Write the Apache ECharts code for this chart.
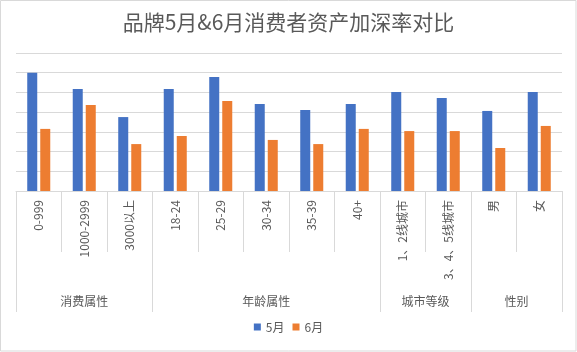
<!DOCTYPE html>
<html>
<head>
<meta charset="utf-8">
<script src="https://cdn.jsdelivr.net/npm/echarts@6/dist/echarts.min.js"></script>
<style>
  html, body { margin: 0; padding: 0; background: #fff; }
  #chart { width: 577px; height: 352px; }
</style>
</head>
<body>
<div id="chart"></div>
<script>
// categories and group headers
const categories = ['0-999', '1000-2999', '3000以上', '18-24', '25-29', '30-34', '35-39', '40+', '1、2线城市', '3、4、5线城市', '男', '女'];
const groups = ['消费属性', '年龄属性', '城市等级', '性别'];
const groupSizes = [3, 5, 2, 2];

// series values (in gridline units)
const may = [6.0, 5.17, 3.75, 5.17, 5.78, 4.41, 4.11, 4.41, 5.02, 4.72, 4.06, 5.02];
const june = [3.15, 4.36, 2.38, 2.79, 4.57, 2.59, 2.38, 3.15, 3.04, 3.04, 2.18, 3.30];

const font = "'Microsoft YaHei', 'Noto Sans CJK SC', sans-serif";
const textColor = '#595959';
const lineColor = '#d9d9d9';

// group boundaries and centres on a 0..n scale
const bounds = [0];
groupSizes.forEach(function (s) { bounds.push(bounds[bounds.length - 1] + s); });
const centres = groups.map(function (g, i) { return (bounds[i] + bounds[i + 1]) / 2; });

window.onload = function () {
    const myChart = echarts.init(document.getElementById('chart'));

    const option = {
        textStyle: { fontFamily: font },
        title: {
            text: '品牌5月&6月消费者资产加深率对比',
            left: 'center',
            top: 12,
            padding: 0,
            textStyle: { color: textColor, fontSize: 21, fontWeight: 'normal', fontFamily: font }
        },
        legend: {
            bottom: 14,
            left: 'center',
            icon: 'rect',
            itemWidth: 7,
            itemHeight: 7,
            itemGap: 8,
            textStyle: { color: textColor, fontSize: 12, fontFamily: font }
        },
        grid: { left: 16, right: 15, top: 53, bottom: 161 },
        xAxis: [{
            type: 'category',
            position: 'bottom',
            data: categories,
            axisLine: { show: true, lineStyle: { color: lineColor } },
            axisTick: { show: true, length: 61, interval: 0, lineStyle: { color: lineColor } },
            axisLabel: {
                interval: 0,
                rotate: 90,
                margin: 9,
                color: textColor,
                fontSize: 12,
                fontFamily: font
            }
        }, {
            type: 'value',
            position: 'bottom',
            min: 0,
            max: categories.length,
            axisLine: { show: false },
            splitLine: { show: false },
            axisTick: {
                show: true,
                length: 121,
                customValues: bounds,
                lineStyle: { color: lineColor }
            },
            axisLabel: {
                customValues: centres,
                margin: 104,
                color: textColor,
                fontSize: 12,
                fontFamily: font,
                formatter: function (v) {
                    const i = centres.indexOf(v);
                    return i >= 0 ? groups[i] : '';
                }
            }
        }],
        yAxis: {
            type: 'value',
            min: 0,
            max: 7,
            interval: 1,
            axisLine: { show: false },
            axisTick: { show: false },
            axisLabel: { show: false },
            splitLine: { lineStyle: { color: lineColor } }
        },
        series: [{
            name: '5月',
            type: 'bar',
            xAxisIndex: 0,
            data: may,
            barWidth: '22%',
            barGap: '30%',
            itemStyle: { color: '#4472C4' }
        }, {
            name: '6月',
            type: 'bar',
            xAxisIndex: 0,
            data: june,
            barWidth: '22%',
            itemStyle: { color: '#ED7D31' }
        }],
        graphic: [{
            type: 'rect',
            shape: { x: 0.5, y: 0.5, width: 575.5, height: 350.5 },
            style: { fill: 'none', stroke: lineColor, lineWidth: 1 },
            silent: true
        }]
    };

    myChart.setOption(option);
};
</script>
</body>
</html>
